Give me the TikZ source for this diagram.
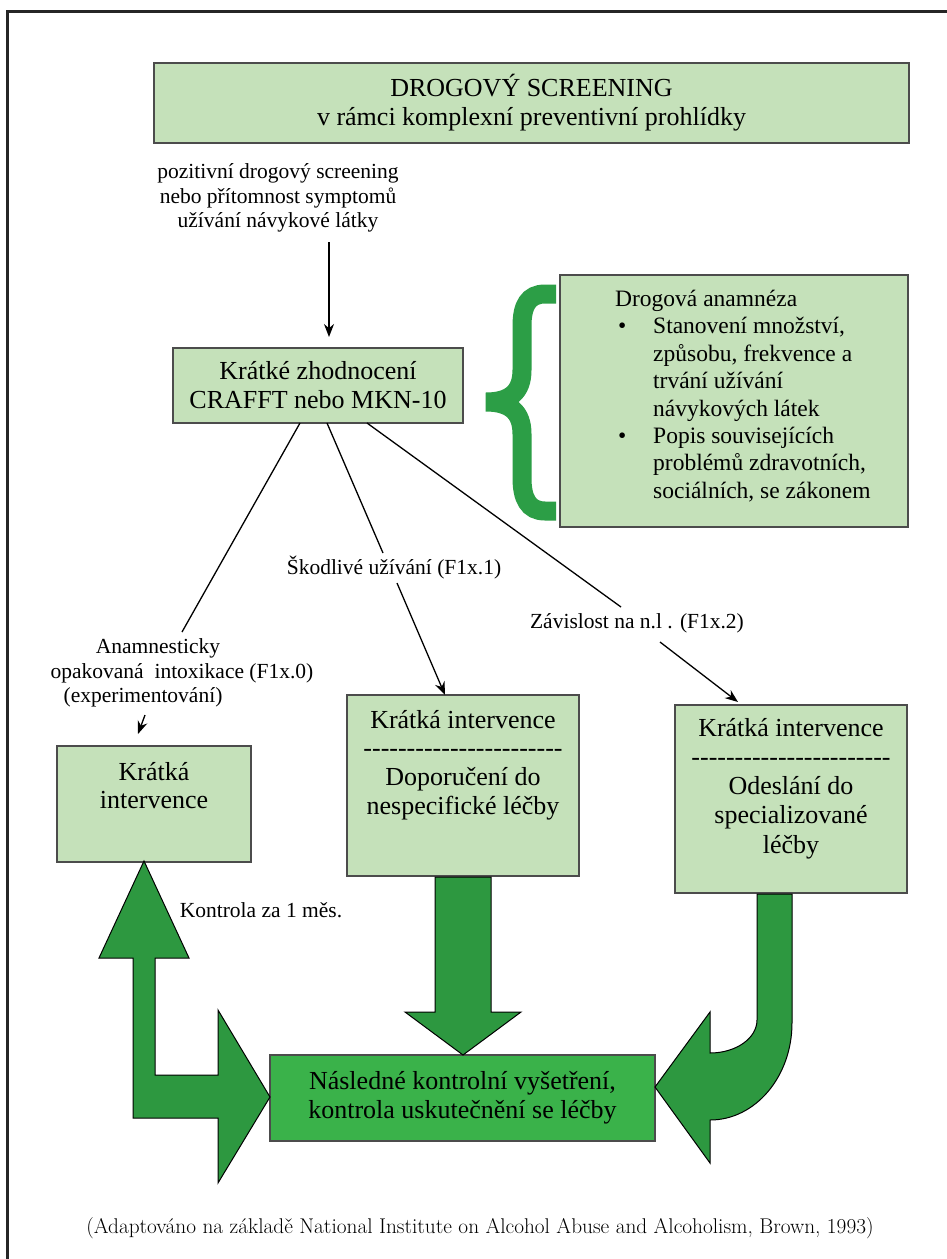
\documentclass[tikz,border=0pt]{standalone}
\usepackage{fontspec}
\setmainfont{Liberation Serif}
\usetikzlibrary{arrows.meta,calc}
\definecolor{boxgreen}{RGB}{197,225,186}
\definecolor{botgreen}{RGB}{58,178,74}
\definecolor{arrowgreen}{RGB}{45,152,64}
\definecolor{bracegreen}{RGB}{44,158,70}
\def\dashrow{-{}-{}-{}-{}-{}-{}-{}-{}-{}-{}-{}-{}-{}-{}-{}-{}-{}-{}-{}-{}-{}-{}-}
\begin{document}
\begin{tikzpicture}[x=1pt,y=-1pt,
  lbox/.style={draw=black!70, line width=1.3pt, fill=boxgreen, inner sep=0pt},
  btext/.style={font=\fontsize{26}{29}\selectfont, align=center, inner sep=0pt},
  lbl/.style={font=\fontsize{21.5}{24.5}\selectfont, align=center, inner sep=0pt},
  bigarrow/.style={fill=arrowgreen, draw=black, line width=1pt, line join=miter},
  conn/.style={draw=black, line width=1.3pt},
  arr/.style={conn, -{Stealth[length=13pt,width=10pt]}}]
\useasboundingbox (0,0) rectangle (947,1259);
\fill[white] (0,0) rectangle (947,1259);
% frame
\draw[line width=3pt, black!85] (7,1262) -- (7,11.5) -- (950,11.5);

% boxes
\node[lbox, minimum width=755pt, minimum height=80pt, btext] (top) at (531.5,103)
  {DROGOVÝ SCREENING\\v rámci komplexní preventivní prohlídky};
\node[lbox, minimum width=290pt, minimum height=75pt, btext] (krat) at (318,385.5)
  {Krátké zhodnocení\\CRAFFT nebo MKN-10};
\node[lbox, minimum width=348pt, minimum height=252pt] (anam) at (734,401) {};
\node[anchor=north west, align=left, inner sep=0pt, font=\fontsize{23.5}{27.4}\selectfont] (anamtext) at (615,290)
  {Drogová anamnéza\\
   \makebox[38pt][l]{\hspace{3pt}\textbullet}Stanovení množství,\\
   \hspace*{38pt}způsobu, frekvence a\\
   \hspace*{38pt}trvání užívání\\
   \hspace*{38pt}návykových látek\\
   \makebox[38pt][l]{\hspace{3pt}\textbullet}Popis souvisejících\\
   \hspace*{38pt}problémů zdravotních,\\
   \hspace*{38pt}sociálních, se zákonem};

\node[lbox, minimum width=194pt, minimum height=116pt] (left) at (154,804) {};
\node[btext, font=\fontsize{26}{28}\selectfont] (lefttext) at (154,786) {Krátká\\intervence};
\node[lbox, minimum width=232pt, minimum height=181pt] (mid) at (463,785.5) {};
\node[btext, font=\fontsize{26}{28.7}\selectfont] (midtext) at (463,765)
  {Krátká intervence\\\dashrow\\Doporučení do\\nespecifické léčby};
\node[lbox, minimum width=232pt, minimum height=188pt] (right) at (791,799) {};
\node[btext, font=\fontsize{26}{29.2}\selectfont] (righttext) at (791,788.5)
  {Krátká intervence\\\dashrow\\Odeslání do\\specializované\\léčby};
\node[draw=black!70, line width=1.3pt, fill=botgreen, minimum width=385pt, minimum height=86pt, btext] (bot) at (462.5,1098)
  {Následné kontrolní vyšetření,\\kontrola uskutečnění se léčby};

% brace
\draw[bracegreen, line width=19pt, line join=miter, miter limit=20]
  (556,294) -- (545,294) .. controls (528,294) and (522,306) .. (522,326) -- (522,370)
  .. controls (522,392) and (510,402) .. (486,402)
  .. controls (510,402) and (522,412) .. (522,434) -- (522,478)
  .. controls (522,498) and (528,511) .. (545,511) -- (556,511);

% labels
\node[lbl] (pos) at (278,198) {pozitivní drogový screening\\nebo přítomnost symptomů\\užívání návykové látky};
\node[lbl] (shk) at (394,568) {Škodlivé užívání (F1x.1)};
\node[lbl] (zav) at (637,623) {Závislost na n.l . (F1x.2)};
\node[lbl] (a1) at (158,648) {Anamnesticky};
\node[lbl] (a2) at (182,673) {opakovaná\ \ intoxikace (F1x.0)};
\node[lbl] (a3) at (143,697) {(experimentování)};
\node[lbl] (kon) at (261,910) {Kontrola za 1 měs.};

% connector coordinates
\coordinate (c0) at (329,242);
\coordinate (c0e) at (329,337);
\coordinate (k1) at (300,423);
\coordinate (k2) at (327,423);
\coordinate (k3) at (367,423);
\coordinate (e1) at (182,632);
\coordinate (e2) at (383,553);
\coordinate (e3) at (621,607);
\coordinate (s2) at (397,583);
\coordinate (t2) at (445,695);
\coordinate (s3) at (660,642);
\coordinate (t3) at (738,702);
\coordinate (s1) at (145,715);
\coordinate (t1) at (138,734);

\draw[arr] (c0) -- (c0e);
\draw[conn] (k1) -- (e1);
\draw[conn] (k2) -- (e2);
\draw[conn] (k3) -- (e3);
\draw[arr] (s2) -- (t2);
\draw[arr] (s3) -- (t3);
\draw[arr] (s1) -- (t1);

% big arrows
\draw[bigarrow] (435,877) -- (491,877) -- (491,1012) -- (521,1012) -- (463,1055)
  -- (405,1012) -- (435,1012) -- cycle;
\draw[bigarrow] (144,861) -- (189,958) -- (155,958) -- (155,1075) -- (218,1075)
  -- (218,1010) -- (270,1097) -- (218,1183) -- (218,1118) -- (133,1118)
  -- (133,958) -- (99,958) -- cycle;
\draw[bigarrow] (792,894) -- (792,1023)
  .. controls (792,1076.6) and (755.3,1120) .. (710,1120)
  -- (710,1163) -- (655,1087) -- (710,1012) -- (710,1053)
  .. controls (736,1053) and (757,1038.2) .. (757,1020) -- (757,894) -- cycle;

% caption
\node[inner sep=0pt, font=\fontfamily{lmr}\selectfont\fontsize{21.3}{24}\selectfont] (cap) at (480,1228)
  {(Adaptováno na základě National Institute on Alcohol Abuse and Alcoholism, Brown, 1993)};
\end{tikzpicture}
\end{document}
